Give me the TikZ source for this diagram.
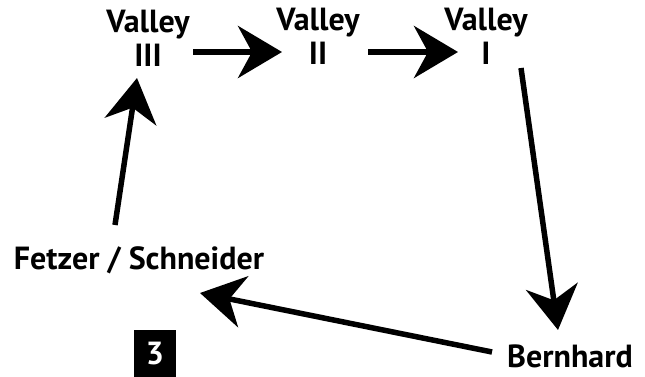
\documentclass[tikz,border=0pt]{standalone}
\usepackage{fontspec}
\setmainfont{PT Sans}
\usetikzlibrary{arrows.meta}
\begin{document}
\begin{tikzpicture}[x=1pt,y=-1pt,
  lab/.style={font=\bfseries\fontsize{32}{34}\selectfont, align=center, inner sep=0pt},
  arr/.style={line width=5.5pt, -{Stealth[length=44pt,width=52pt,inset=14pt]}},
  numbox/.style={fill=black, text=white, font=\bfseries\fontsize{32}{32}\selectfont, minimum width=42pt, minimum height=47pt, inner sep=0pt}]
\useasboundingbox (0,0) rectangle (645,377);
\node[lab] (v3) at (148,38) {Valley\\III};
\node[lab] (v2) at (318,36) {Valley\\II};
\node[lab] (v1) at (486,36) {Valley\\I};
\node[lab] (f) at (139,260) {Fetzer / Schneider};
\node[lab] (b) at (570,356) {Bernhard};
\node[numbox] (n3) at (155,353.5) {3};
\draw[arr] ([shift={(45,14)}]v3.center) -- ([shift={(-36,16)}]v2.center);
\draw[arr] ([shift={(50,16)}]v2.center) -- ([shift={(-28,16)}]v1.center);
\draw[arr] ([shift={(35,32)}]v1.center) -- ([shift={(-12,-26)}]b.center);
\draw[arr] ([shift={(-78,-4)}]b.center) -- ([shift={(61,33)}]f.center);
\draw[arr] ([shift={(-24,-35)}]f.center) -- ([shift={(-2,-182)}]f.center);
\end{tikzpicture}
\end{document}
